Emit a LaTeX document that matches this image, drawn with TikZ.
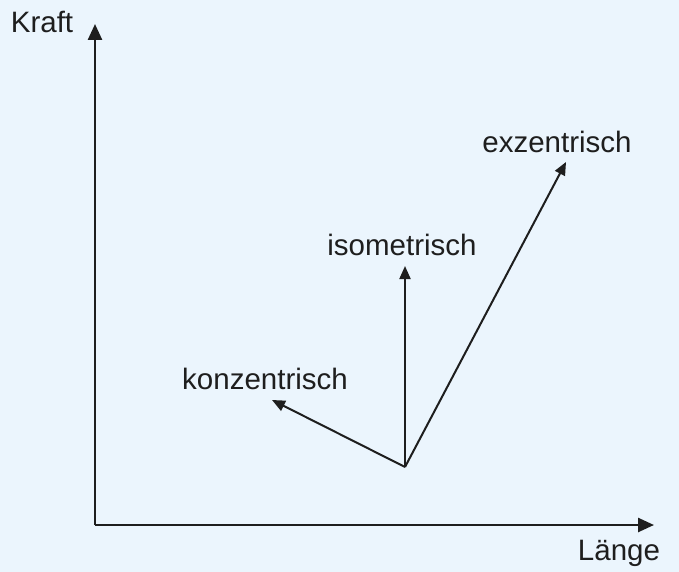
\documentclass[tikz,border=0pt]{standalone}
\usepackage{fontspec}
\setmainfont{Liberation Sans}
\usetikzlibrary{arrows.meta}
\definecolor{bgblue}{RGB}{235,245,253}
\definecolor{ink}{RGB}{30,30,30}

\begin{document}
\begin{tikzpicture}[x=1pt, y=-1pt,
  axis/.style={draw=ink, line width=2.5pt, -{Triangle[length=16pt, width=14pt]}},
  vec/.style={draw=ink, line width=2pt, -{Triangle[length=13pt, width=11pt]}},
  lbl/.style={text=ink, inner sep=0pt, font=\fontsize{29.5}{31}\selectfont}]
\fill[bgblue] (0,0) rectangle (679,572);
\useasboundingbox (0,0) rectangle (679,572);

\coordinate (origin) at (95,525);
\coordinate (ytop) at (95,24);
\coordinate (xend) at (654,525);
\coordinate (start) at (405,467);
\coordinate (kon) at (272,400);
\coordinate (iso) at (405,266);
\coordinate (exz) at (566,162);

\draw[axis] (origin) -- (ytop);
\draw[axis] (origin) -- (xend);

\node[lbl] (kraft) at (42,22) {Kraft};
\node[lbl] (laenge) at (619,553) {Länge};

\draw[vec] (start) -- (kon);
\draw[vec] (start) -- (iso);
\draw[vec] (start) -- (exz);

\node[lbl] (konlabel) at (265,379) {konzentrisch};
\node[lbl] (isolabel) at (402,245) {isometrisch};
\node[lbl] (exzlabel) at (557,142) {exzentrisch};
\end{tikzpicture}
\end{document}
